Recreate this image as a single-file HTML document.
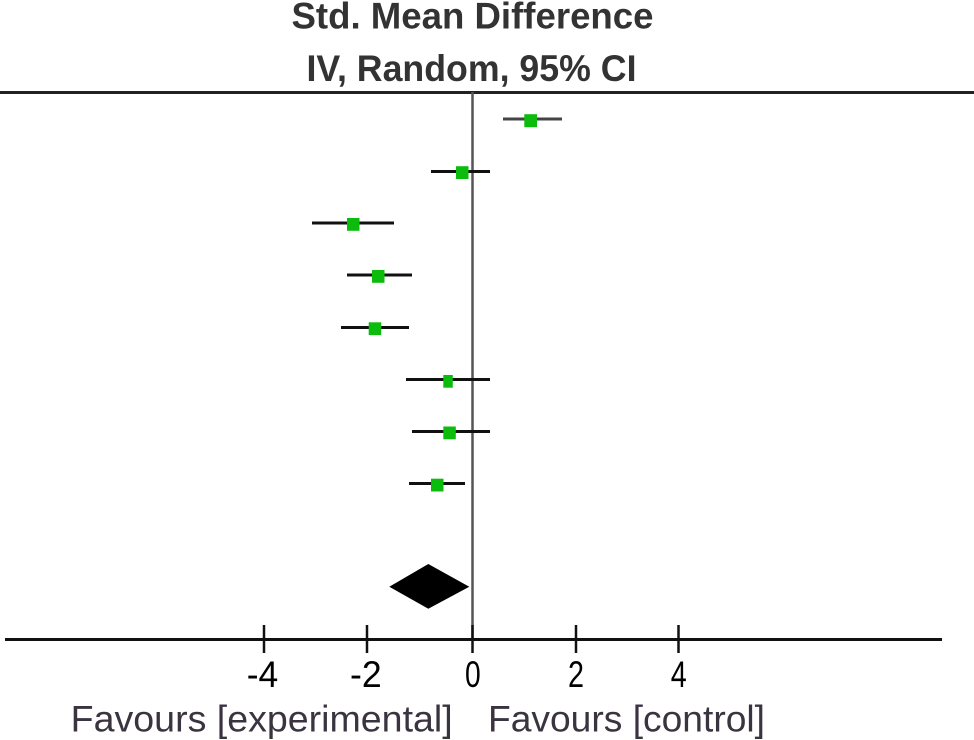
<!DOCTYPE html>
<html>
<head>
<meta charset="utf-8">
<style>
html,body{margin:0;padding:0;background:#fff;}
svg{display:block;}
</style>
</head>
<body>
<svg width="974" height="740" viewBox="0 0 974 740" xmlns="http://www.w3.org/2000/svg">
  <rect width="974" height="740" fill="#fff"/>
  <!-- titles -->
  <text x="291.5" y="28.5" font-family="Liberation Sans, Arial, sans-serif" font-weight="bold" font-size="37" fill="#333" textLength="362" lengthAdjust="spacingAndGlyphs">Std. Mean Difference</text>
  <text x="306.5" y="81" font-family="Liberation Sans, Arial, sans-serif" font-weight="bold" font-size="37" fill="#333" textLength="330" lengthAdjust="spacingAndGlyphs">IV, Random, 95% CI</text>

  <!-- top line -->
  <line x1="0" y1="92.5" x2="974" y2="92.5" stroke="#222" stroke-width="3"/>
  <!-- zero line -->
  <line x1="472.5" y1="92" x2="472.5" y2="640" stroke="#555" stroke-width="2.5"/>

  <!-- CI lines -->
  <g stroke="#111" stroke-width="3">
    <line x1="503" y1="119" x2="562" y2="119" stroke="#444"/>
    <line x1="431" y1="171.5" x2="490" y2="171.5"/>
    <line x1="312" y1="223" x2="394" y2="223"/>
    <line x1="347" y1="275" x2="412" y2="275"/>
    <line x1="341" y1="327.5" x2="409" y2="327.5"/>
    <line x1="406" y1="379.5" x2="490" y2="379.5"/>
    <line x1="412" y1="431.5" x2="490" y2="431.5"/>
    <line x1="409" y1="483.5" x2="465" y2="483.5"/>
  </g>
  <!-- squares -->
  <g fill="#0cbc0c">
    <rect x="524.3" y="114.2" width="12.7" height="13"/>
    <rect x="456" y="166.2" width="12.5" height="12.8"/>
    <rect x="347" y="218" width="12.5" height="12.8"/>
    <rect x="372" y="270" width="12.5" height="12.8"/>
    <rect x="368.7" y="322.3" width="12.5" height="12.8"/>
    <rect x="443.3" y="375" width="9.5" height="12.7"/>
    <rect x="443.3" y="426.5" width="12.5" height="12.8"/>
    <rect x="431" y="478.7" width="12.5" height="12.8"/>
  </g>

  <!-- diamond -->
  <polygon points="389.3,586.7 428.3,564 469.3,586.7 428.3,608.7" fill="#000"/>

  <!-- x axis -->
  <line x1="5" y1="639.5" x2="942" y2="639.5" stroke="#111" stroke-width="3"/>
  <g stroke="#111" stroke-width="2.5">
    <line x1="264" y1="625" x2="264" y2="653"/>
    <line x1="367" y1="625" x2="367" y2="653"/>
    <line x1="472.5" y1="625" x2="472.5" y2="653"/>
    <line x1="576" y1="625" x2="576" y2="653"/>
    <line x1="678.5" y1="625" x2="678.5" y2="653"/>
  </g>
  <!-- tick labels -->
  <g font-family="Liberation Sans, Arial, sans-serif" font-size="37" fill="#000">
    <text x="246.7" y="687" textLength="31.5" lengthAdjust="spacingAndGlyphs">-4</text>
    <text x="350" y="687" textLength="31.7" lengthAdjust="spacingAndGlyphs">-2</text>
    <text x="465" y="687" textLength="15.7" lengthAdjust="spacingAndGlyphs">0</text>
    <text x="568" y="687" textLength="16" lengthAdjust="spacingAndGlyphs">2</text>
    <text x="670.7" y="687" textLength="16" lengthAdjust="spacingAndGlyphs">4</text>
  </g>
  <!-- favours labels -->
  <g font-family="Liberation Sans, Arial, sans-serif" font-size="37.5" fill="#3a3440">
    <text x="70.7" y="731.5" textLength="382" lengthAdjust="spacingAndGlyphs">Favours [experimental]</text>
    <text x="488" y="731.5" textLength="277" lengthAdjust="spacingAndGlyphs">Favours [control]</text>
  </g>
</svg>
</body>
</html>
